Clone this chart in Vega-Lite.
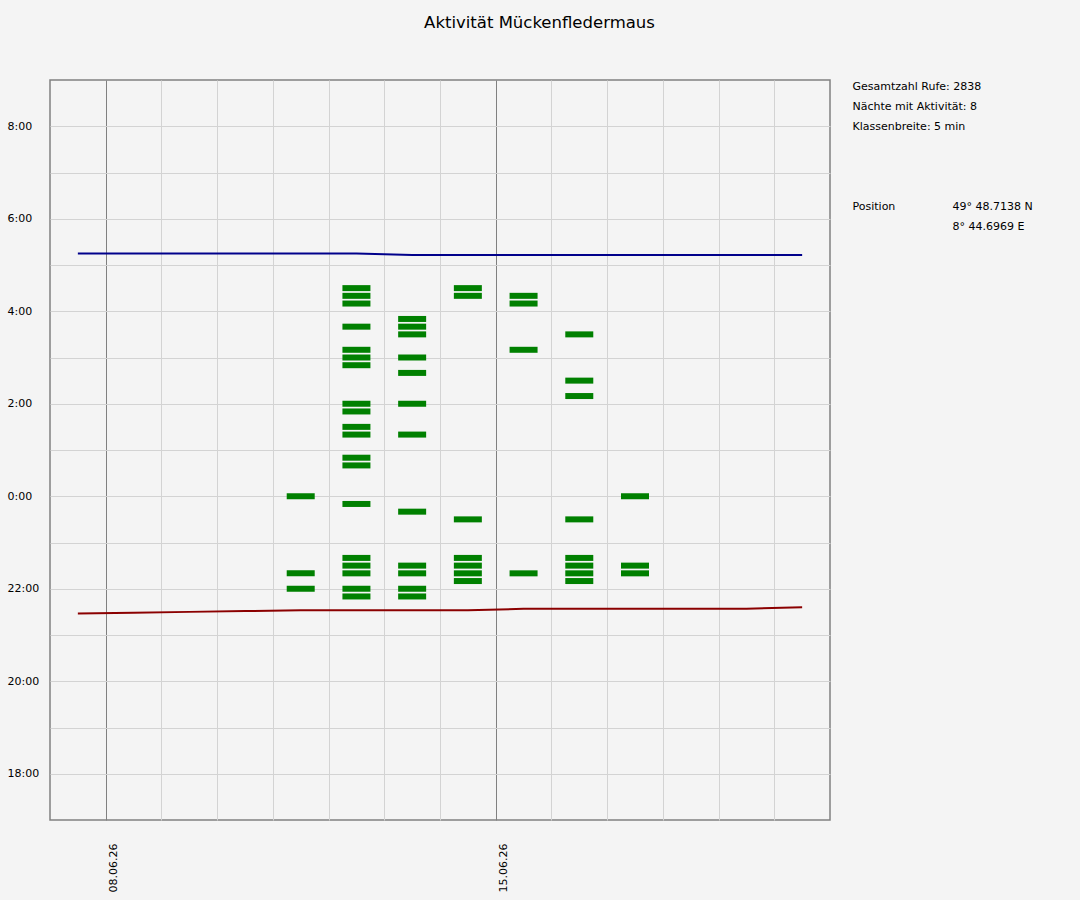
{
  "$schema": "https://vega.github.io/schema/vega-lite/v6.json",
  "background": "#f4f4f4",
  "padding": {"left": 6, "top": 14, "right": 50, "bottom": 12},
  "title": {
    "text": "Aktivität Mückenfledermaus",
    "font": "DejaVu Sans",
    "fontSize": 16.5,
    "fontWeight": "normal",
    "color": "#000000",
    "anchor": "middle",
    "offset": 48,
    "dx": 20
  },
  "config": {
    "font": "DejaVu Sans",
    "view": {"stroke": null}
  },
  "bounds": "flush",
  "spacing": 22,
  "hconcat": [
    {
      "width": 780,
      "height": 740,
      "view": {"stroke": "#808080", "strokeWidth": 1.5},
      "encoding": {
        "x": {
          "field": "nacht",
          "type": "temporal",
          "timeUnit": "utcyearmonthdate",
          "bandPosition": 0.5,
          "title": null,
          "scale": {
            "domain": [
              {"year": 2026, "month": 6, "date": 7, "utc": true},
              {"year": 2026, "month": 6, "date": 21, "utc": true}
            ]
          },
          "axis": {
            "values": [
              {"year": 2026, "month": 6, "date": 8, "utc": true},
              {"year": 2026, "month": 6, "date": 9, "utc": true},
              {"year": 2026, "month": 6, "date": 10, "utc": true},
              {"year": 2026, "month": 6, "date": 11, "utc": true},
              {"year": 2026, "month": 6, "date": 12, "utc": true},
              {"year": 2026, "month": 6, "date": 13, "utc": true},
              {"year": 2026, "month": 6, "date": 14, "utc": true},
              {"year": 2026, "month": 6, "date": 15, "utc": true},
              {"year": 2026, "month": 6, "date": 16, "utc": true},
              {"year": 2026, "month": 6, "date": 17, "utc": true},
              {"year": 2026, "month": 6, "date": 18, "utc": true},
              {"year": 2026, "month": 6, "date": 19, "utc": true},
              {"year": 2026, "month": 6, "date": 20, "utc": true}
            ],
            "title": null,
            "domain": false,
            "ticks": false,
            "labelAngle": 270,
            "labelPadding": 23,
            "labelOffset": 8,
            "labelFont": "DejaVu Sans",
            "labelFontSize": 11,
            "labelColor": "#000000",
            "labelOverlap": false,
            "labelBound": false,
            "labelExpr": "utcdate(datum.value) == 8 || utcdate(datum.value) == 15 ? utcFormat(datum.value, '%d.%m.%y') : ''",
            "gridColor": {
              "condition": {"test": "utcdate(datum.value) == 8 || utcdate(datum.value) == 15", "value": "#808080"},
              "value": "#d3d3d3"
            },
            "gridOpacity": 1,
            "gridWidth": 1
          }
        }
      },
      "layer": [
        {
          "data": {
            "values": [
              {"nacht": "2026-06-11", "min": 0},
              {"nacht": "2026-06-11", "min": -100},
              {"nacht": "2026-06-11", "min": -120},
              {"nacht": "2026-06-12", "min": 270},
              {"nacht": "2026-06-12", "min": 260},
              {"nacht": "2026-06-12", "min": 250},
              {"nacht": "2026-06-12", "min": 220},
              {"nacht": "2026-06-12", "min": 190},
              {"nacht": "2026-06-12", "min": 180},
              {"nacht": "2026-06-12", "min": 170},
              {"nacht": "2026-06-12", "min": 120},
              {"nacht": "2026-06-12", "min": 110},
              {"nacht": "2026-06-12", "min": 90},
              {"nacht": "2026-06-12", "min": 80},
              {"nacht": "2026-06-12", "min": 50},
              {"nacht": "2026-06-12", "min": 40},
              {"nacht": "2026-06-12", "min": -10},
              {"nacht": "2026-06-12", "min": -80},
              {"nacht": "2026-06-12", "min": -90},
              {"nacht": "2026-06-12", "min": -100},
              {"nacht": "2026-06-12", "min": -120},
              {"nacht": "2026-06-12", "min": -130},
              {"nacht": "2026-06-13", "min": 230},
              {"nacht": "2026-06-13", "min": 220},
              {"nacht": "2026-06-13", "min": 210},
              {"nacht": "2026-06-13", "min": 180},
              {"nacht": "2026-06-13", "min": 160},
              {"nacht": "2026-06-13", "min": 120},
              {"nacht": "2026-06-13", "min": 80},
              {"nacht": "2026-06-13", "min": -20},
              {"nacht": "2026-06-13", "min": -90},
              {"nacht": "2026-06-13", "min": -100},
              {"nacht": "2026-06-13", "min": -120},
              {"nacht": "2026-06-13", "min": -130},
              {"nacht": "2026-06-14", "min": 270},
              {"nacht": "2026-06-14", "min": 260},
              {"nacht": "2026-06-14", "min": -30},
              {"nacht": "2026-06-14", "min": -80},
              {"nacht": "2026-06-14", "min": -90},
              {"nacht": "2026-06-14", "min": -100},
              {"nacht": "2026-06-14", "min": -110},
              {"nacht": "2026-06-15", "min": 260},
              {"nacht": "2026-06-15", "min": 250},
              {"nacht": "2026-06-15", "min": 190},
              {"nacht": "2026-06-15", "min": -100},
              {"nacht": "2026-06-16", "min": 210},
              {"nacht": "2026-06-16", "min": 150},
              {"nacht": "2026-06-16", "min": 130},
              {"nacht": "2026-06-16", "min": -30},
              {"nacht": "2026-06-16", "min": -80},
              {"nacht": "2026-06-16", "min": -90},
              {"nacht": "2026-06-16", "min": -100},
              {"nacht": "2026-06-16", "min": -110},
              {"nacht": "2026-06-17", "min": 0},
              {"nacht": "2026-06-17", "min": -90},
              {"nacht": "2026-06-17", "min": -100}
            ]
          },
          "mark": {"type": "tick", "orient": "horizontal", "color": "#008000", "size": 28, "thickness": 6, "opacity": 1},
          "encoding": {
            "y": {
              "field": "min",
              "type": "quantitative",
              "title": null,
              "scale": {"domain": [-420, 540], "nice": false, "zero": false},
              "axis": {
                "values": [-360, -300, -240, -180, -120, -60, 0, 60, 120, 180, 240, 300, 360, 420, 480],
                "title": null,
                "domain": false,
                "ticks": false,
                "labelAlign": "left",
                "labelPadding": 43,
                "labelFont": "DejaVu Sans",
                "labelFontSize": 11,
                "labelColor": "#000000",
                "labelOverlap": false,
                "labelExpr": "datum.value % 120 == 0 ? ((datum.value / 60 + 24) % 24) + ':00' : ''",
                "gridColor": "#d3d3d3",
                "gridOpacity": 1,
                "gridWidth": 1
              }
            }
          }
        },
        {
          "data": {"name": "sonne"},
          "mark": {"type": "line", "color": "#00008b", "strokeWidth": 2},
          "encoding": {"y": {"field": "aufgang", "type": "quantitative", "title": null}}
        },
        {
          "data": {"name": "sonne"},
          "mark": {"type": "line", "color": "#8b0000", "strokeWidth": 2},
          "encoding": {"y": {"field": "untergang", "type": "quantitative", "title": null}}
        }
      ]
    },
    {
      "bounds": "flush",
      "spacing": 60,
      "vconcat": [
        {
          "width": 1,
          "height": 60,
          "data": {
            "values": [
              {"angabe": "Gesamtzahl Rufe: 2838"},
              {"angabe": "Nächte mit Aktivität: 8"},
              {"angabe": "Klassenbreite: 5 min"}
            ]
          },
          "mark": {"type": "text", "align": "left", "baseline": "middle", "font": "DejaVu Sans", "fontSize": 11, "color": "#000000", "dy": -3},
          "encoding": {
            "y": {"field": "angabe", "type": "nominal", "sort": null, "axis": null, "scale": {"type": "point", "padding": 0.5}},
            "text": {"field": "angabe"}
          }
        },
        {
          "width": 1,
          "height": 40,
          "data": {
            "values": [
              {"angabe": "Position", "wert": "49° 48.7138 N"},
              {"angabe": "", "wert": "8° 44.6969 E"}
            ]
          },
          "encoding": {
            "y": {"field": "wert", "type": "nominal", "sort": null, "axis": null, "scale": {"type": "point", "padding": 0.5}}
          },
          "layer": [
            {
              "mark": {"type": "text", "align": "left", "baseline": "middle", "font": "DejaVu Sans", "fontSize": 11, "color": "#000000", "dy": -3},
              "encoding": {"text": {"field": "angabe"}}
            },
            {
              "mark": {"type": "text", "align": "left", "baseline": "middle", "font": "DejaVu Sans", "fontSize": 11, "color": "#000000", "dy": -3, "dx": 100},
              "encoding": {"text": {"field": "wert"}}
            }
          ]
        }
      ]
    }
  ],
  "datasets": {
    "sonne": [
      {"nacht": "2026-06-07", "aufgang": 315, "untergang": -152},
      {"nacht": "2026-06-08", "aufgang": 315, "untergang": -151},
      {"nacht": "2026-06-09", "aufgang": 315, "untergang": -150},
      {"nacht": "2026-06-10", "aufgang": 315, "untergang": -149},
      {"nacht": "2026-06-11", "aufgang": 315, "untergang": -148},
      {"nacht": "2026-06-12", "aufgang": 315, "untergang": -148},
      {"nacht": "2026-06-13", "aufgang": 313, "untergang": -148},
      {"nacht": "2026-06-14", "aufgang": 313, "untergang": -148},
      {"nacht": "2026-06-15", "aufgang": 313, "untergang": -146},
      {"nacht": "2026-06-16", "aufgang": 313, "untergang": -146},
      {"nacht": "2026-06-17", "aufgang": 313, "untergang": -146},
      {"nacht": "2026-06-18", "aufgang": 313, "untergang": -146},
      {"nacht": "2026-06-19", "aufgang": 313, "untergang": -146},
      {"nacht": "2026-06-20", "aufgang": 313, "untergang": -144}
    ]
  }
}
